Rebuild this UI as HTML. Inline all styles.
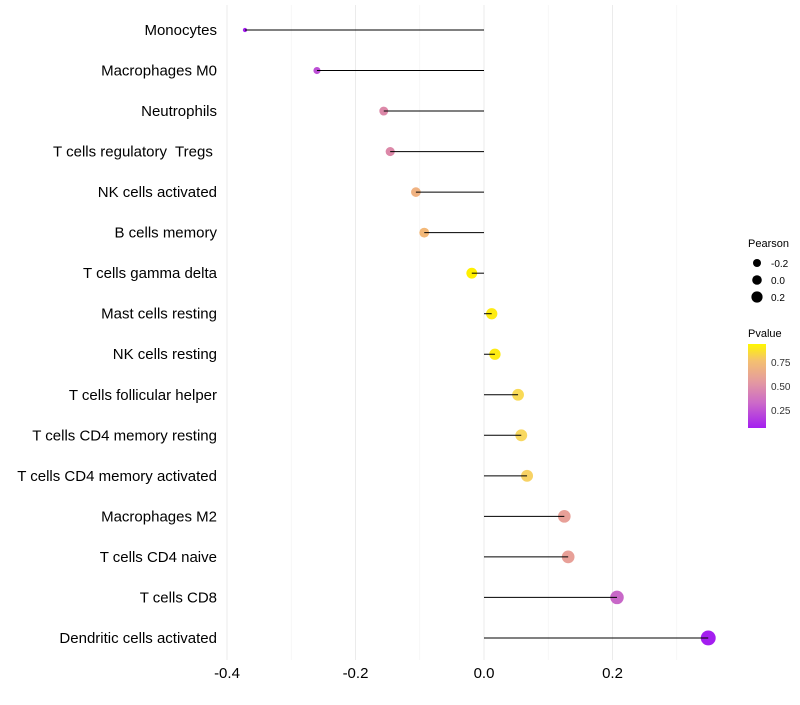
<!DOCTYPE html>
<html><head><meta charset="utf-8"><style>
body{margin:0;background:#fff;font-family:"Liberation Sans",sans-serif}
text{white-space:pre}
</style></head><body>
<svg id="chart" width="800" height="700" xmlns="http://www.w3.org/2000/svg">
<defs><linearGradient id="pg" x1="0" y1="1" x2="0" y2="0">
<stop offset="0" stop-color="#a41ef0"/><stop offset="0.3" stop-color="#cc6ac8"/><stop offset="0.55" stop-color="#e49aa0"/><stop offset="0.8" stop-color="#f4c070"/><stop offset="1" stop-color="#fff700"/></linearGradient></defs>
<g id="grid"></g><g id="points"></g><g id="marks"></g><g id="labels"></g>
<g font-size="10">
<text x="748" y="247" font-size="11" fill="#000">Pearson</text>
<circle cx="757" cy="263" r="4" fill="#000"/><text x="771" y="267" fill="#000">-0.2</text>
<circle cx="757" cy="280" r="4.8" fill="#000"/><text x="771" y="284" fill="#000">0.0</text>
<circle cx="757" cy="297" r="5.6" fill="#000"/><text x="771" y="301" fill="#000">0.2</text>
</g>
<g font-size="10">
<text x="748" y="337" font-size="11" fill="#000">Pvalue</text>
<rect x="748" y="344" width="18" height="84" fill="url(#pg)"/>
<text x="771" y="366" fill="#333">0.75</text><text x="771" y="390" fill="#333">0.50</text><text x="771" y="414" fill="#333">0.25</text>
</g>
</svg>
<script>
const categories=["Monocytes","Macrophages M0","Neutrophils","T cells regulatory  Tregs ","NK cells activated","B cells memory","T cells gamma delta","Mast cells resting","NK cells resting","T cells follicular helper","T cells CD4 memory resting","T cells CD4 memory activated","Macrophages M2","T cells CD4 naive","T cells CD8","Dendritic cells activated"];
const pearson=[-0.372,-0.26,-0.156,-0.146,-0.106,-0.093,-0.019,0.012,0.017,0.053,0.058,0.067,0.125,0.131,0.207,0.349];
const pvalue=[0.05,0.15,0.42,0.42,0.66,0.7,0.95,0.93,0.93,0.86,0.85,0.82,0.55,0.55,0.2,0.05];
const ticks=[-0.4,-0.2,0,0.2];
const minorTicks=[-0.3,-0.1,0.1,0.3];
const ns="http://www.w3.org/2000/svg";
const x=v=>484+v*642.5;
const y=i=>30+i*40.53;
const rad=v=>Math.sqrt(Math.max(3,31+71*v));
const cstops=[[0.05,[164,30,240]],[0.2,[200,104,200]],[0.42,[220,136,168]],[0.55,[232,160,152]],[0.7,[243,184,120]],[0.85,[248,216,96]],[0.95,[255,240,0]]];
function col(p){if(p<=cstops[0][0])return 'rgb(164,30,240)';
 for(let k=1;k<cstops.length;k++){if(p<=cstops[k][0]){const [p0,a]=cstops[k-1],[p1,b]=cstops[k];const f=(p-p0)/(p1-p0);
 return `rgb(${a.map((c,j)=>Math.round(c+(b[j]-c)*f)).join(',')})`;}}
 return 'rgb(255,240,0)';}
function mk(tag,at,parent){const e=document.createElementNS(ns,tag);for(const k in at)e.setAttribute(k,at[k]);parent.appendChild(e);return e;}
const grid=document.getElementById('grid'),marks=document.getElementById('marks'),points=document.getElementById('points'),labels=document.getElementById('labels');
minorTicks.forEach(t=>{const l=mk('line',{x1:x(t),x2:x(t),y1:5,y2:660,stroke:'#f3f3f3','stroke-width':0.6},grid);

});
ticks.forEach(t=>{const l=mk('line',{x1:x(t),x2:x(t),y1:5,y2:660,stroke:'#ebebeb','stroke-width':1},grid);


const tx=mk('text',{x:x(t),y:678,'text-anchor':'middle','font-size':15,fill:'#000'},labels);tx.textContent=t===0?'0.0':String(t);

});
categories.forEach((c,i)=>{
 const p=mk('circle',{cx:x(pearson[i]),cy:y(i),r:rad(pearson[i]),fill:col(pvalue[i])},points);
 
 
 const l=mk('line',{x1:x(0),x2:x(pearson[i]),y1:y(i),y2:y(i),stroke:'#000','stroke-width':1},marks);
 
 
 const t=mk('text',{x:217,y:y(i)+5,'text-anchor':'end','font-size':15,fill:'#000'},labels);
 t.textContent=c;
 
 
});
</script>
</body></html>
